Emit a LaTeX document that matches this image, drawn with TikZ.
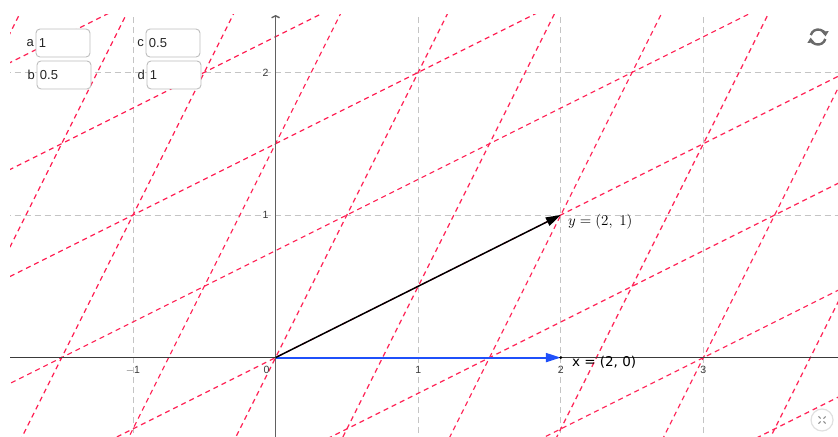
\documentclass[tikz,border=0pt]{standalone}
\usepackage{fix-cm}
\usepackage{fontspec}
\setmainfont{Liberation Sans}
\setsansfont{Liberation Sans}
\newfontfamily\labelfont{DejaVu Sans}
\usetikzlibrary{arrows.meta,positioning,calc}
\definecolor{GridGray}{HTML}{C4C4C4}
\definecolor{Lattice}{HTML}{FF2255}
\definecolor{AxisInk}{HTML}{3A3A3A}
\definecolor{VecBlue}{HTML}{1F50FA}
\definecolor{BoxLine}{HTML}{BDBDBD}
\definecolor{IconGray}{HTML}{6A6A6A}
\tikzset{
  gridline/.style={draw=GridGray,line width=0.9pt,dash pattern=on 6pt off 4pt},
  latline/.style={draw=Lattice,line width=1.2pt,dash pattern=on 5pt off 4pt},
  axisline/.style={draw=AxisInk,line width=1.4pt},
  vecarrow/.style={-{Triangle[length=15pt,width=9pt]},line width=1.5pt,draw=black},
  bluearrow/.style={-{Triangle[length=15pt,width=9pt]},line width=2pt,draw=VecBlue,color=VecBlue},
  ticklab/.style={font=\fontsize{10.5}{12}\selectfont,text=AxisInk,inner sep=0pt},
  ptlabel/.style={inner sep=0pt,text=black,anchor=west},
  inputbox/.style={draw=BoxLine,fill=white,rounded corners=4pt,line width=0.9pt,minimum height=28pt,text width=48pt,inner xsep=3pt,align=left,font=\fontsize{13}{15}\selectfont,text=black!85},
  inputlabel/.style={inner sep=0pt,font=\fontsize{13}{15}\selectfont,text=black!85},
  iconline/.style={draw=IconGray,line width=2.4pt}
}

\begin{document}
\begin{tikzpicture}[x=142.6pt,y=142.6pt]
  \useasboundingbox (-1.93268,-0.55680) rectangle (3.94390,2.50771);
  \begin{scope}
    \clip (-1.8625,-0.5568) rectangle (3.9439,2.4025);
    \foreach \gx in {-1,1,2,3}
      \draw[gridline] (\gx,-0.6) -- (\gx,2.5);
    \foreach \gy in {1,2}
      \draw[gridline] (-1.9,\gy) -- (4,\gy);
    \foreach \k in {-4,...,5}
      \draw[latline] ({\k*0.5-8},{\k-4}) -- ({\k*0.5+8},{\k+4});
    \foreach \k in {-5,...,6}
      \draw[latline] ({\k-4},{\k*0.5-8}) -- ({\k+4},{\k*0.5+8});
  \end{scope}
  \coordinate (O) at (0,0);
  \coordinate (xl) at (-1.8625,0);
  \coordinate (xr) at (3.9439,0);
  \coordinate (yb) at (0,-0.5568);
  \coordinate (yt) at (0,2.4025);
  \draw[axisline] (xl) -- (xr);
  \draw[axisline,draw=AxisInk!80,-{Straight Barb[length=2pt,width=8pt]}] (yb) -- (yt);
  \foreach \gx/\gt in {-1/$-$1,1/1,2/2,3/3}
    \node[ticklab,anchor=north] (tx\gx) at ([yshift=-8pt]\gx,0) {\gt};
  \node[ticklab,anchor=north east] (t0) at ([xshift=-6pt,yshift=-8pt]O) {0};
  \foreach \gy in {1,2}
    \node[ticklab,anchor=east] (ty\gy) at ([xshift=-7pt]0,\gy) {\gy};
  \coordinate (X) at (2,0);
  \coordinate (Y) at (2,1);
  \draw[bluearrow] (O) -- (X);
  \draw[vecarrow] (O) -- (Y);
  \fill[black] (X) circle (1.6pt);
  \node[ptlabel,font=\fontsize{15}{17}\selectfont] (ylab) at ([xshift=7pt,yshift=-7pt]Y) {$y = (2,\ 1)$};
  \node[ptlabel,font=\labelfont\fontsize{13.5}{16}\selectfont] (xlab) at ([xshift=11pt,yshift=-5pt]X) {x = (2, 0)};
  \node[inputbox] (boxa) at (-1.491,2.206) {1};
  \node[inputbox] (boxb) at (-1.484,1.982) {0.5};
  \node[inputbox] (boxc) at (-0.7195,2.206) {0.5};
  \node[inputbox] (boxd) at (-0.7125,1.982) {1};
  \node[inputlabel,left=1.5pt of boxa] (laba) {a};
  \node[inputlabel,left=1.5pt of boxb] (labb) {b};
  \node[inputlabel,left=1.5pt of boxc] (labc) {c};
  \node[inputlabel,left=1.5pt of boxd] (labd) {d};
  \coordinate (refresh) at (3.804,2.248);
  \draw[iconline,-{Triangle[length=5pt,width=7pt]}] ([shift={(165:7.5pt)}]refresh) arc (165:5:7.5pt);
  \draw[iconline,-{Triangle[length=5pt,width=7pt]}] ([shift={(-15:7.5pt)}]refresh) arc (-15:-175:7.5pt);
  \node[circle,draw=black!12,fill=white,line width=1.2pt,minimum size=22pt] (fullscr) at (3.832,-0.4376) {};
  \foreach \ang in {45,135,225,315}
    \draw[draw=black!45,line width=1pt] ([shift={(\ang:2pt)}]fullscr.center) -- ([shift={(\ang:5pt)}]fullscr.center);
\end{tikzpicture}
\end{document}
